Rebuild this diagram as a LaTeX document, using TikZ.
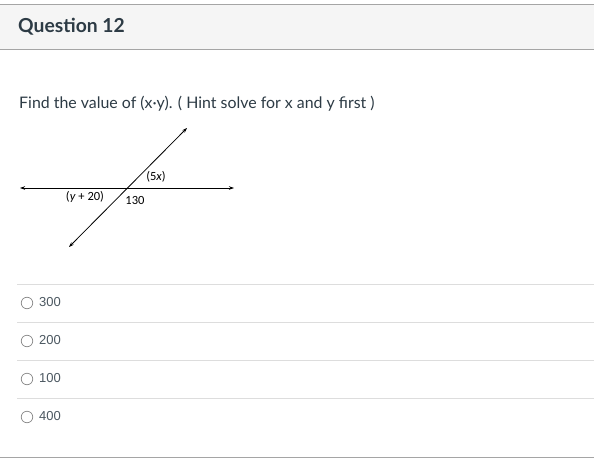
\documentclass[tikz,border=0pt]{standalone}
\usepackage{fontspec}
\setmainfont{Lato}
\newfontfamily\calfont{Carlito}
\newfontfamily\optfont{Liberation Sans}
\usetikzlibrary{arrows.meta}
\definecolor{txt}{HTML}{2D3B45}
\definecolor{hdrfill}{HTML}{F5F5F5}
\definecolor{hdrline}{HTML}{A5A5A5}
\definecolor{sepline}{HTML}{DDDDDD}
\definecolor{radio}{HTML}{888888}
\tikzset{
  opt/.style={anchor=west, inner sep=0pt, font=\optfont\fontsize{13}{15}\selectfont, text=txt!85},
  radiobtn/.style={circle, draw=radio, line width=0.7pt, minimum size=11.5pt, inner sep=0pt},
  sep/.style={draw=sepline, line width=0.8pt},
  geo/.style={line width=0.8pt, black, {Stealth[length=5pt,width=3.5pt]}-{Stealth[length=5pt,width=3.5pt]}},
  lbl/.style={inner sep=0pt, font=\calfont\fontsize{12.5}{14}\selectfont}
}
\begin{document}
\begin{tikzpicture}[x=1pt,y=-1pt]
\useasboundingbox (0,0) rectangle (594,460);
\fill[white] (0,0) rectangle (594,460);
% header
\fill[hdrfill] (0,5) rectangle (594,50);
\draw[hdrline, line width=1pt] (0,5) -- (594,5);
\draw[hdrline, line width=1pt] (0,50) -- (594,50);
\node[anchor=west, inner sep=0pt, text=txt, font=\bfseries\fontsize{19.3}{22}\selectfont] (title) at (18,27) {Question 12};
% question
\node[anchor=west, inner sep=0pt, text=txt, font=\fontsize{15.9}{18}\selectfont] (q) at (19,104) {Find the value of (x·y). ( Hint solve for x and y first )};
% diagram
\coordinate (hl) at (20,188);
\coordinate (hr) at (234,188);
\coordinate (dt) at (187,128);
\coordinate (db) at (69,247);
\draw[geo] (hl) -- (hr);
\draw[geo] (db) -- (dt);
\node[lbl] (a5x) at (156,177) {(5\textit{x})};
\node[lbl] (ay) at (85,197) {(\textit{y} + 20)};
\node[lbl] (a130) at (135,200) {130};
% options
\draw[sep] (17,284) -- (594,284);
\draw[sep] (17,322) -- (594,322);
\draw[sep] (17,360) -- (594,360);
\draw[sep] (17,398) -- (594,398);
\draw[hdrline, line width=1pt] (0,457) -- (594,457);
\node[radiobtn] (r1) at (27,303) {};
\node[radiobtn] (r2) at (27,341) {};
\node[radiobtn] (r3) at (27,379) {};
\node[radiobtn] (r4) at (27,417) {};
\node[opt] (o1) at (39,302) {300};
\node[opt] (o2) at (39,340) {200};
\node[opt] (o3) at (39,378) {100};
\node[opt] (o4) at (39,416) {400};
\end{tikzpicture}
\end{document}
